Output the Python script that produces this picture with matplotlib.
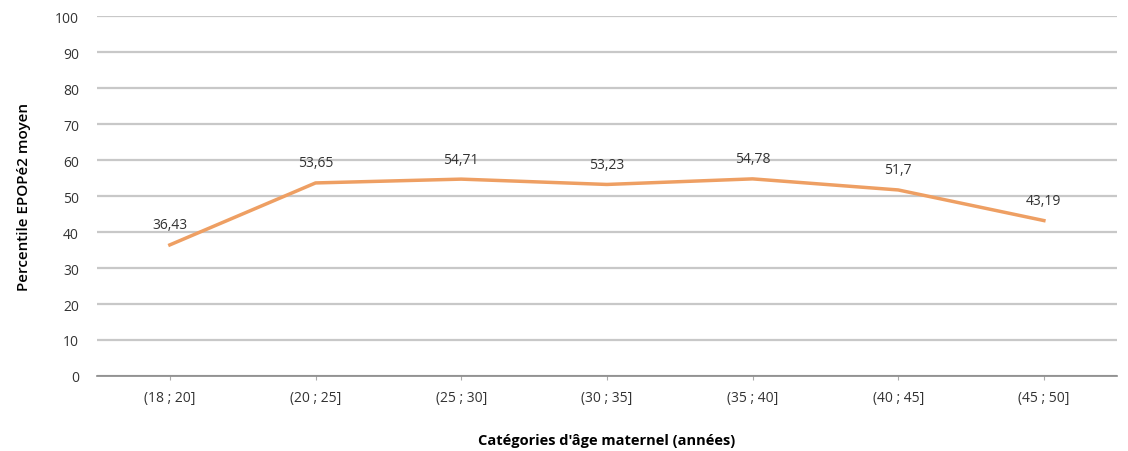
import matplotlib.pyplot as plt

# donnees
categories = ['(18 ; 20]', '(20 ; 25]', '(25 ; 30]', '(30 ; 35]', '(35 ; 40]', '(40 ; 45]', '(45 ; 50]']
valeurs = [36.43, 53.65, 54.71, 53.23, 54.78, 51.7, 43.19]
etiquettes = ['36,43', '53,65', '54,71', '53,23', '54,78', '51,7', '43,19']
yticks = list(range(0, 101, 10))

plt.rcParams['font.family'] = ['Open Sans', 'DejaVu Sans']

fig = plt.figure(figsize=(11.28, 4.52), dpi=100)
ax = fig.add_axes([0.086, 0.166, 0.904, 0.796])

x = list(range(len(categories)))
ax.plot(x, valeurs, color='#ee9f63', linewidth=2.5, zorder=3)

for xi, v, lab in zip(x, valeurs, etiquettes):
    ax.annotate(lab, (xi, v), xytext=(0, 9), textcoords='offset points',
                ha='center', va='bottom', fontsize=10, color='#333333')

ax.set_xlim(-0.5, len(categories) - 0.5)
ax.set_ylim(0, 100)
ax.set_yticks(yticks)
ax.set_xticks(x)
ax.set_xticklabels(categories)
ax.yaxis.grid(True, color='#c8c8c8', linewidth=1.6)
ax.set_axisbelow(True)

for s in ['top', 'right', 'left']:
    ax.spines[s].set_visible(False)
ax.spines['bottom'].set_color('#888888')
ax.spines['bottom'].set_linewidth(1.2)

ax.tick_params(axis='y', length=0, labelsize=10, colors='#333333', pad=13)
ax.tick_params(axis='x', length=3, color='#aaaaaa', labelsize=10, colors='#333333', pad=7)

ax.set_ylabel('Percentile EPOPé2 moyen', fontsize=11, fontweight='semibold', labelpad=17)
ax.set_xlabel("Catégories d'âge maternel (années)", fontsize=10.5, fontweight='bold', labelpad=20)

fig.savefig('out.png', dpi=100)
